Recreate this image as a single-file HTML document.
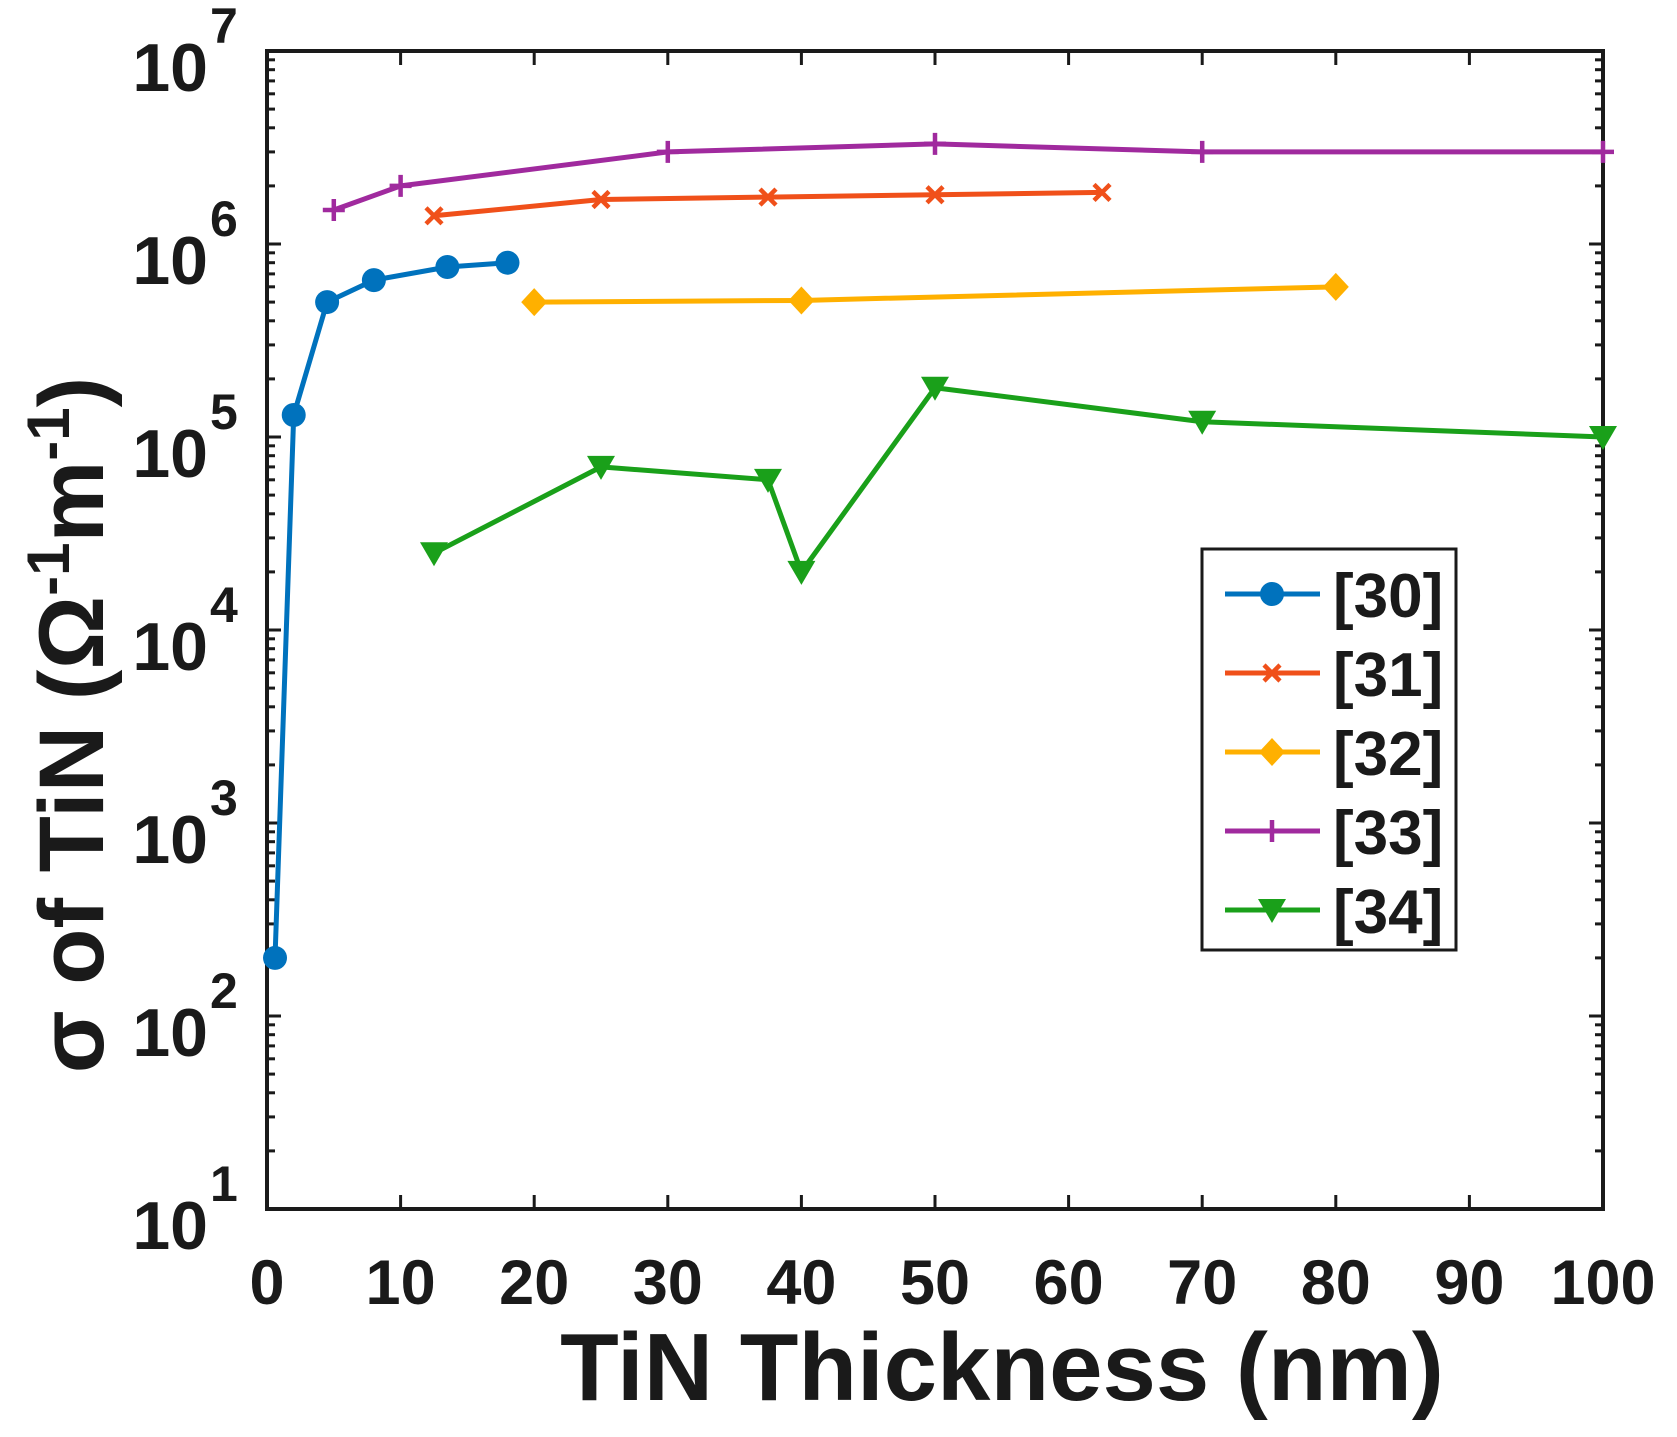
<!DOCTYPE html>
<html><head><meta charset="utf-8"><style>
html,body{margin:0;padding:0;background:#fff;}
svg{display:block;}
text{font-family:"Liberation Sans",Arial,sans-serif;font-weight:bold;fill:#1a1a1a;}
</style></head><body>
<svg id="s" width="1677" height="1437" viewBox="0 0 1677 1437" xmlns="http://www.w3.org/2000/svg"></svg>
<script>
const S=document.getElementById('s');
const X0=267,X1=1603,Y0=51,Y1=1209,DEC=(Y1-Y0)/6;
const xs=v=>X0+(X1-X0)*v/100;
const ys=v=>Y1-(Math.log10(v)-1)*DEC;
let h='';
h+=`<rect x="${X0}" y="${Y0}" width="${X1-X0}" height="${Y1-Y0}" fill="none" stroke="#1a1a1a" stroke-width="4"/>`;
for(let v=0;v<=100;v+=10){const x=xs(v);
 h+=`<line x1="${x}" y1="${Y1}" x2="${x}" y2="${Y1-14}" stroke="#1a1a1a" stroke-width="3"/>`;
 h+=`<line x1="${x}" y1="${Y0}" x2="${x}" y2="${Y0+14}" stroke="#1a1a1a" stroke-width="3"/>`;
 h+=`<text x="${x}" y="1304" font-size="63" text-anchor="middle">${v}</text>`;}
for(let e=1;e<=7;e++){const y=ys(Math.pow(10,e));
 h+=`<line x1="${X0}" y1="${y}" x2="${X0+14}" y2="${y}" stroke="#1a1a1a" stroke-width="3"/>`;
 h+=`<line x1="${X1}" y1="${y}" x2="${X1-14}" y2="${y}" stroke="#1a1a1a" stroke-width="3"/>`;
 h+=`<text x="208" y="${y+40}" font-size="68" text-anchor="end">10</text><text x="210" y="${y-8}" font-size="50">${e}</text>`;
 if(e<7)for(let m=2;m<=9;m++){const yy=ys(m*Math.pow(10,e));
  h+=`<line x1="${X0}" y1="${yy}" x2="${X0+8}" y2="${yy}" stroke="#1a1a1a" stroke-width="3"/>`;
  h+=`<line x1="${X1}" y1="${yy}" x2="${X1-8}" y2="${yy}" stroke="#1a1a1a" stroke-width="3"/>`;}
}
h+=`<text x="1002" y="1400" font-size="96" text-anchor="middle">TiN Thickness (nm)</text>`;
h+=`<text transform="translate(103,725) rotate(-90)" font-size="92" text-anchor="middle">σ of TiN (Ω<tspan font-size="60" dy="-34">-1</tspan><tspan dy="34">m</tspan><tspan font-size="60" dy="-34">-1</tspan><tspan dy="34">)</tspan></text>`;
function mk(t,x,y,c){
 if(t=='o')return `<circle cx="${x}" cy="${y}" r="12" fill="${c}"/>`;
 if(t=='x')return `<path d="M${x-8} ${y-8}L${x+8} ${y+8}M${x-8} ${y+8}L${x+8} ${y-8}" stroke="${c}" stroke-width="4.5"/>`;
 if(t=='d')return `<path d="M${x} ${y-14}L${x+13} ${y}L${x} ${y+14}L${x-13} ${y}Z" fill="${c}"/>`;
 if(t=='+')return `<path d="M${x-11} ${y}H${x+11}M${x} ${y-11}V${y+11}" stroke="${c}" stroke-width="4.5"/>`;
 if(t=='v')return `<path d="M${x-14} ${y-11}H${x+14}L${x} ${y+13}Z" fill="${c}"/>`;
}
const series=[
 ['#0072BD','o',[[0.6,200],[2,1.3e5],[4.5,5e5],[8,6.5e5],[13.5,7.6e5],[18,8e5]]],
 ['#F0501A','x',[[12.5,1.4e6],[25,1.7e6],[37.5,1.75e6],[50,1.8e6],[62.5,1.85e6]]],
 ['#FFB000','d',[[20,5e5],[40,5.1e5],[80,6e5]]],
 ['#A02A9E','+',[[5,1.5e6],[10,2e6],[30,3e6],[50,3.3e6],[70,3e6],[100,3e6]]],
 ['#1AA01A','v',[[12.5,2.5e4],[25,7e4],[37.5,6e4],[40,2e4],[50,1.8e5],[70,1.2e5],[100,1e5]]]
];
series.forEach(([c,t,d])=>{
 h+=`<polyline fill="none" stroke="${c}" stroke-width="5" stroke-linejoin="round" points="${d.map(p=>xs(p[0])+','+ys(p[1])).join(' ')}"/>`;
 d.forEach(p=>h+=mk(t,xs(p[0]),ys(p[1]),c));
});
h+=`<rect x="1202" y="549" width="254" height="401" fill="#fff" stroke="#1a1a1a" stroke-width="3"/>`;
const ly=[594,673,752,831,910],names=['[30]','[31]','[32]','[33]','[34]'];
series.forEach(([c,t],i)=>{const y=ly[i];
 h+=`<line x1="1225" y1="${y}" x2="1320" y2="${y}" stroke="${c}" stroke-width="5"/>`+mk(t,1272,y,c);
 h+=`<text x="1333" y="${y+23}" font-size="62">${names[i]}</text>`;});
S.innerHTML=h;
</script>
</body></html>
